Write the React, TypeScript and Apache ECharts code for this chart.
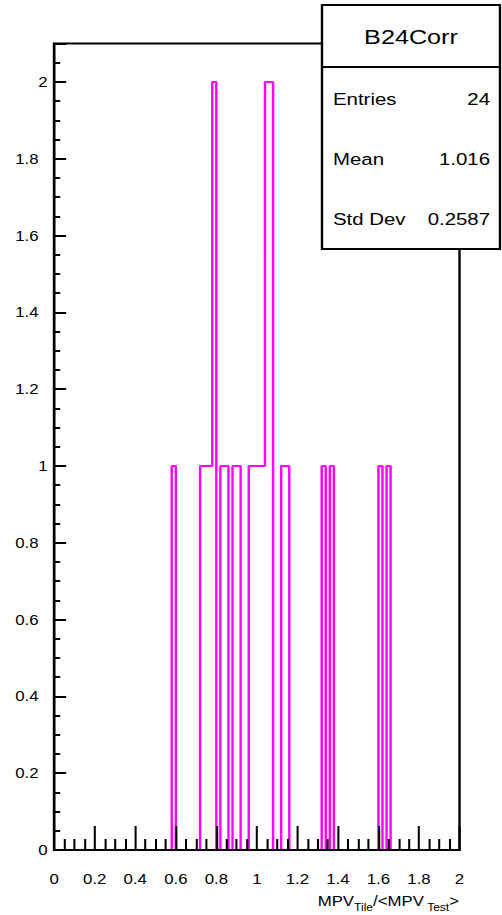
import React, { useEffect, useRef } from "react";
import * as echarts from "echarts";

// ---- data ----
const xMin = 0;
const xMax = 2;
const binWidth = 0.02;
const filledBinLow = [0.58, 0.72, 0.74, 0.76, 0.78, 0.82, 0.84, 0.88, 0.9, 0.96, 0.98, 1.0, 1.02, 1.04, 1.06, 1.12, 1.14, 1.32, 1.36, 1.6, 1.64];
const filledBinCount = [1, 1, 1, 1, 2, 1, 1, 1, 1, 1, 1, 1, 1, 2, 2, 1, 1, 1, 1, 1, 1];
const histTitle = "B24Corr";
const statLabels = ["Entries", "Mean", "Std Dev"];
const statValues = ["24", "1.016", "0.2587"];

// ---- layout ----
const S = 1.2; // horizontal stretch of the reference picture
const PW = 502;
const PH = 915;
const W = PW / S;
const H = PH;
const FONT = "'Liberation Sans', Arial, Helvetica, sans-serif";

function buildOutline(): number[][] {
  const n = Math.round((xMax - xMin) / binWidth);
  const counts = new Array(n).fill(0);
  filledBinLow.forEach((lo, i) => {
    const k = Math.round((lo - xMin) / binWidth);
    counts[k] += filledBinCount[i];
  });
  const pts: number[][] = [[xMin, 0]];
  for (let k = 0; k < n; k++) {
    const a = +(xMin + k * binWidth).toFixed(4);
    const b = +(xMin + (k + 1) * binWidth).toFixed(4);
    pts.push([a, counts[k]]);
    pts.push([b, counts[k]]);
  }
  pts.push([xMax, 0]);
  return pts;
}

export default function App() {
  const ref = useRef<HTMLDivElement>(null);
  useEffect(() => {
    document.body.style.margin = "0";
    const chart = echarts.init(ref.current!, undefined, { renderer: "svg", width: W, height: H });
    const gl = 54.2 / S;
    const gr = W - 459.5 / S;
    const boxL = 322 / S;
    const boxR = 500 / S;
    const boxT = 5;
    const boxB = 249;
    const rowY = [99, 159, 219];
    const graphics: any[] = [
      {
        type: "rect",
        z: 100,
        shape: { x: boxL, y: boxT, width: boxR - boxL, height: boxB - boxT },
        style: { fill: "#fff", stroke: "#000", lineWidth: 2 },
      },
      {
        type: "line",
        z: 101,
        shape: { x1: boxL, y1: 67, x2: boxR, y2: 67 },
        style: { stroke: "#000", lineWidth: 2 },
      },
      {
        type: "text",
        z: 102,
        x: (boxL + boxR) / 2,
        y: 37,
        style: { text: histTitle, font: `21px ${FONT}`, fill: "#000", align: "center", verticalAlign: "middle" },
      },
    ];
    statLabels.forEach((lab, i) => {
      graphics.push({
        type: "text",
        z: 102,
        x: 333 / S,
        y: rowY[i],
        style: { text: lab, font: `17px ${FONT}`, fill: "#000", align: "left", verticalAlign: "middle" },
      });
      graphics.push({
        type: "text",
        z: 102,
        x: 490 / S,
        y: rowY[i],
        style: { text: statValues[i], font: `17px ${FONT}`, fill: "#000", align: "right", verticalAlign: "middle" },
      });
    });
    graphics.push({
      type: "text",
      z: 102,
      x: 459 / S,
      y: 894,
      style: {
        text: "{m|MPV}{s|Tile}{m|/<MPV}{s| Test}{m|>}",
        align: "right",
        verticalAlign: "top",
        rich: {
          m: { font: `14px ${FONT}`, fill: "#000", lineHeight: 16, verticalAlign: "top" },
          s: { font: `10px ${FONT}`, fill: "#000", lineHeight: 18, verticalAlign: "bottom" },
        },
      },
    });

    const option: any = {
      animation: false,
      backgroundColor: "#fff",
      textStyle: { fontFamily: FONT },
      grid: {
        left: gl,
        right: gr,
        top: 43.6,
        bottom: 65,
        show: true,
        borderColor: "#000",
        borderWidth: 2,
        backgroundColor: "transparent",
      },
      xAxis: {
        type: "value",
        min: xMin,
        max: xMax,
        interval: 0.2,
        z: 5,
        axisLine: { show: true, onZero: false, lineStyle: { color: "#000", width: 2 } },
        axisTick: { show: true, inside: true, length: 24, lineStyle: { color: "#000", width: 1.7 } },
        minorTick: { show: true, splitNumber: 4, length: 11, lineStyle: { color: "#000", width: 1.7 } },
        splitLine: { show: false },
        minorSplitLine: { show: false },
        axisLabel: { margin: 22, fontSize: 14, color: "#000", fontFamily: FONT },
      },
      yAxis: [
        {
          type: "value",
          min: 0,
          max: 2.1,
          interval: 0.2,
          z: 5,
          axisLine: { show: true, onZero: false, lineStyle: { color: "#000", width: 2 } },
          axisTick: { show: true, inside: true, length: 10, lineStyle: { color: "#000", width: 2 } },
          splitLine: { show: false },
          axisLabel: {
            margin: 5.5,
            fontSize: 14,
            color: "#000",
            fontFamily: FONT,
            formatter: (v: number) => {
              if (v > 2.05) return "";
              const s = String(+v.toFixed(1));
              return s.indexOf(".") >= 0 ? `{d|${s}}` : s;
            },
            rich: { d: { fontSize: 14, fontFamily: FONT, color: "#000", padding: [0, 7.5, 0, 0] } },
          },
        },
        {
          type: "value",
          min: 0,
          max: 2.1,
          interval: 0.05,
          position: "left",
          z: 5,
          axisLine: { show: false },
          axisTick: { show: true, inside: true, length: 5, lineStyle: { color: "#000", width: 2 } },
          splitLine: { show: false },
          axisLabel: { show: false },
        },
      ],
      series: [
        {
          type: "line",
          data: buildOutline(),
          showSymbol: false,
          symbol: "none",
          lineStyle: { color: "#ff00ff", width: 2 },
          z: 2,
        },
      ],
      graphic: graphics,
    };
    chart.setOption(option);
    return () => chart.dispose();
  }, []);

  return (
    <div style={{ position: "fixed", left: 0, top: 0, width: PW, height: PH, overflow: "hidden", background: "#fff" }}>
      <div ref={ref} style={{ width: W, height: H, transform: `scaleX(${S})`, transformOrigin: "0 0" }} />
    </div>
  );
}
